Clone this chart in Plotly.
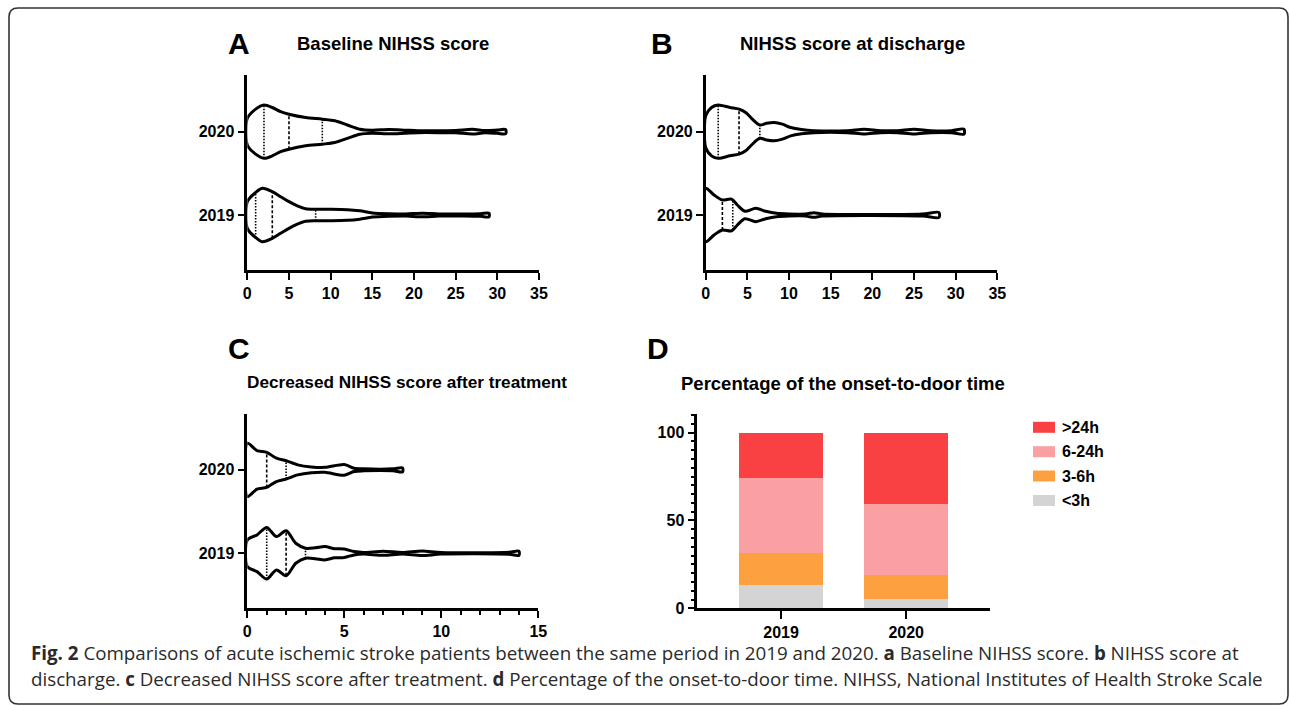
import numpy as np
import plotly.graph_objects as go

W, H = 1290, 706

years = ["2019", "2020"]

# ---- Violin outlines: score and half-width (category units) ----
a_x_2020 = [0, 1, 2, 3, 4, 5, 7, 9, 10.5, 12, 13.5, 15, 17, 19, 20.5, 23, 25, 27, 28.5, 30, 31]
a_w_2020 = [0.16, 0.27, 0.32, 0.29, 0.24, 0.21, 0.17, 0.15, 0.13, 0.08, 0.03, 0.018, 0.026, 0.018, 0.012, 0.012, 0.014, 0.028, 0.014, 0.02, 0.025]
a_x_2019 = [0, 1, 1.8, 3, 4, 5, 6, 7, 8.2, 10, 12, 13.5, 15, 17, 19, 21, 23, 26, 28, 29]
a_w_2019 = [0.16, 0.27, 0.32, 0.28, 0.22, 0.16, 0.11, 0.075, 0.068, 0.068, 0.064, 0.05, 0.025, 0.015, 0.012, 0.022, 0.012, 0.012, 0.016, 0.022]

b_x_2020 = [0, 0.7, 1.5, 2.9, 4, 4.8, 5.5, 6.5, 7.3, 8.2, 9.2, 10.2, 11.5, 13, 17, 19, 21, 23, 25, 27, 29.5, 31]
b_w_2020 = [0.19, 0.29, 0.32, 0.29, 0.27, 0.23, 0.16, 0.08, 0.1, 0.11, 0.09, 0.05, 0.025, 0.012, 0.012, 0.028, 0.012, 0.012, 0.028, 0.012, 0.012, 0.03]
b_x_2019 = [0, 1, 2, 3.1, 3.8, 4.7, 6, 7.2, 8.5, 10, 12, 13, 14, 26, 28]
b_w_2019 = [0.32, 0.24, 0.18, 0.19, 0.12, 0.045, 0.08, 0.045, 0.02, 0.012, 0.012, 0.028, 0.012, 0.012, 0.03]

c_x_2020 = [0, 0.5, 1, 1.5, 2, 2.6, 3.3, 4, 5, 5.5, 6, 7.5, 8]
c_w_2020 = [0.32, 0.23, 0.21, 0.14, 0.11, 0.06, 0.035, 0.03, 0.064, 0.02, 0.012, 0.012, 0.025]
c_x_2019 = [0, 0.5, 1, 1.5, 2, 2.5, 3, 3.5, 4, 4.5, 5, 5.5, 6, 7, 8, 9, 10, 13.5, 14]
c_w_2019 = [0.16, 0.22, 0.31, 0.2, 0.27, 0.12, 0.06, 0.065, 0.08, 0.055, 0.05, 0.02, 0.01, 0.024, 0.01, 0.028, 0.01, 0.012, 0.025]

# quartiles (Q1, median, Q3)
a_quart_2019 = [1, 3, 8.2]
a_quart_2020 = [2, 5, 9]
b_quart_2019 = [0, 2, 3.25]
b_quart_2020 = [1.5, 4, 6.5]
c_quart_2019 = [1, 2, 3]
c_quart_2020 = [0, 1, 2]

# ---- Panel D: stacked percentages ----
onset_labels = [">24h", "6-24h", "3-6h", "<3h"]
pct_lt3 = [13.1, 5.3]
pct_3_6 = [18.3, 13.4]
pct_6_24 = [42.5, 40.8]
pct_gt24 = [26.1, 40.5]
onset_colors = {">24h": "#F94144", "6-24h": "#FBA0A2", "3-6h": "#FCA040", "<3h": "#D4D4D4"}

FONT = "Liberation Sans, Arial, Helvetica, sans-serif"


def px(x):
    return x / W


def py(y):
    return 1 - y / H


fig = go.Figure()


def add_violin(xs, ws, center, quart, xa, ya):
    xs = np.array(xs, float)
    ws = np.array(ws, float)
    top = center + ws
    bot = center - ws
    X = np.concatenate([xs, xs[::-1], xs[:1]])
    Y = np.concatenate([top, bot[::-1], top[:1]])
    fig.add_trace(go.Scatter(x=X, y=Y, mode="lines", xaxis=xa, yaxis=ya,
                             line=dict(color="black", width=3, shape="spline", smoothing=0.8),
                             hoverinfo="skip", showlegend=False))
    for i, q in enumerate(quart):
        if q <= 0:
            continue
        hw = float(np.interp(q, xs, ws))
        fig.add_trace(go.Scatter(x=[q, q], y=[center - hw, center + hw], mode="lines",
                                 xaxis=xa, yaxis=ya,
                                 line=dict(color="black", width=1.6,
                                           dash="3px,2px" if i == 1 else "1.5px,1.5px"),
                                 hoverinfo="skip", showlegend=False))


add_violin(a_x_2020, a_w_2020, 1, a_quart_2020, "x", "y")
add_violin(a_x_2019, a_w_2019, 0, a_quart_2019, "x", "y")
add_violin(b_x_2020, b_w_2020, 1, b_quart_2020, "x2", "y2")
add_violin(b_x_2019, b_w_2019, 0, b_quart_2019, "x2", "y2")
add_violin(c_x_2020, c_w_2020, 1, c_quart_2020, "x3", "y3")
add_violin(c_x_2019, c_w_2019, 0, c_quart_2019, "x3", "y3")

series = {"<3h": pct_lt3, "3-6h": pct_3_6, "6-24h": pct_6_24, ">24h": pct_gt24}
for name in ["<3h", "3-6h", "6-24h", ">24h"]:
    fig.add_trace(go.Bar(x=[0, 1], y=series[name], name=name, width=0.667,
                         marker=dict(color=onset_colors[name], line=dict(width=0)),
                         xaxis="x4", yaxis="y4", showlegend=False))

tickfont = dict(family=FONT, size=16, color="black", weight="bold")
base = dict(showline=True, linewidth=2.6, linecolor="black", ticks="outside",
            ticklen=7, tickwidth=2, tickcolor="black", showgrid=False, automargin=False,
            zeroline=False, tickfont=tickfont, fixedrange=True)

ydomA = [py(270), py(75)]
ydomC = [py(608.3), py(414)]

fig.update_layout(
    width=W, height=H, margin=dict(l=0, r=0, t=0, b=0, pad=0, autoexpand=False),
    paper_bgcolor="white", plot_bgcolor="rgba(0,0,0,0)",
    barmode="stack", showlegend=False,
    xaxis=dict(base, domain=[px(247.3), px(539)], range=[0, 35], dtick=5, tick0=0, anchor="y"),
    yaxis=dict(base, domain=ydomA, range=[-0.66, 1.68], tickvals=[0, 1], ticktext=years, anchor="x"),
    xaxis2=dict(base, domain=[px(705.7), px(997.3)], range=[0, 35], dtick=5, tick0=0, anchor="y2"),
    yaxis2=dict(base, domain=ydomA, range=[-0.66, 1.68], tickvals=[0, 1], ticktext=years, anchor="x2"),
    xaxis3=dict(base, domain=[px(247.3), px(538.3)], range=[0, 15], dtick=5, tick0=0, anchor="y3",
                minor=dict(ticks="outside", dtick=1, ticklen=4, tickwidth=2, tickcolor="black")),
    yaxis3=dict(base, domain=ydomC, range=[-0.66, 1.67], tickvals=[0, 1], ticktext=years, anchor="x3"),
    xaxis4=dict(base, domain=[px(697.3), px(990)], range=[-0.67, 1.67], tickvals=[0, 1],
                ticktext=years, ticklen=8, anchor="y4"),
    yaxis4=dict(base, domain=ydomC, range=[0, 110.6], tickvals=[0, 50, 100], anchor="x4",
                minor=dict(ticks="outside", dtick=5, ticklen=4, tickwidth=2, tickcolor="black")),
)

ann = []


def text(x, y, s, size, xanchor="center", color="black", family=FONT):
    ann.append(dict(x=px(x), y=py(y), xref="paper", yref="paper", text=s, showarrow=False,
                    xanchor=xanchor, yanchor="middle",
                    font=dict(family=family, size=size, color=color)))


# panel letters & titles
text(239, 43, "<b>A</b>", 30)
text(393, 44, "<b>Baseline NIHSS score</b>", 18.5)
text(662, 43, "<b>B</b>", 30)
text(852, 44, "<b>NIHSS score at discharge</b>", 18.5)
text(239, 348, "<b>C</b>", 30)
text(407, 382, "<b>Decreased NIHSS score after treatment</b>", 17.2)
text(658, 348, "<b>D</b>", 30)
text(843, 383, "<b>Percentage of the onset-to-door time</b>", 18.5)

# legend for panel D
shapes = []
leg_y = [427.3, 451.7, 476, 500.5]
for name, yy in zip(onset_labels, leg_y):
    shapes.append(dict(type="rect", xref="paper", yref="paper",
                       x0=px(1033), x1=px(1055), y0=py(yy - 5.5), y1=py(yy + 5.5),
                       fillcolor=onset_colors[name], line=dict(width=0)))
    text(1060, yy, "<b>" + name.replace("<", "&lt;").replace(">", "&gt;") + "</b>", 16, xanchor="left")

# caption
CAP = "Open Sans, Noto Sans, sans-serif"
text(29, 652, "<b>Fig. 2</b> Comparisons of acute ischemic stroke patients between the same period in 2019 and 2020. "
     "<b>a</b> Baseline NIHSS score. <b>b</b> NIHSS score at", 18.75, xanchor="left", color="#2a2a2a", family=CAP)
text(29, 678, "discharge. <b>c</b> Decreased NIHSS score after treatment. <b>d</b> Percentage of the onset-to-door "
     "time. NIHSS, National Institutes of Health Stroke Scale", 18.75, xanchor="left", color="#2a2a2a", family=CAP)

# rounded frame around the figure
L, T, R, B, r = 9, 8, 1288, 704, 9
path = (f"M {px(L)},{py(T + r)} Q {px(L)},{py(T)} {px(L + r)},{py(T)} "
        f"L {px(R - r)},{py(T)} Q {px(R)},{py(T)} {px(R)},{py(T + r)} "
        f"L {px(R)},{py(B - r)} Q {px(R)},{py(B)} {px(R - r)},{py(B)} "
        f"L {px(L + r)},{py(B)} Q {px(L)},{py(B)} {px(L)},{py(B - r)} Z")
shapes.append(dict(type="path", xref="paper", yref="paper", path=path,
                   line=dict(color="#333", width=1.6)))

fig.update_layout(annotations=ann, shapes=shapes)
fig.write_html("out.html", config={"displayModeBar": False},
               post_script="document.documentElement.style.margin='0px';document.body.style.margin='0px';"
                           "document.documentElement.style.overflow='hidden';document.body.style.overflow='hidden';")
